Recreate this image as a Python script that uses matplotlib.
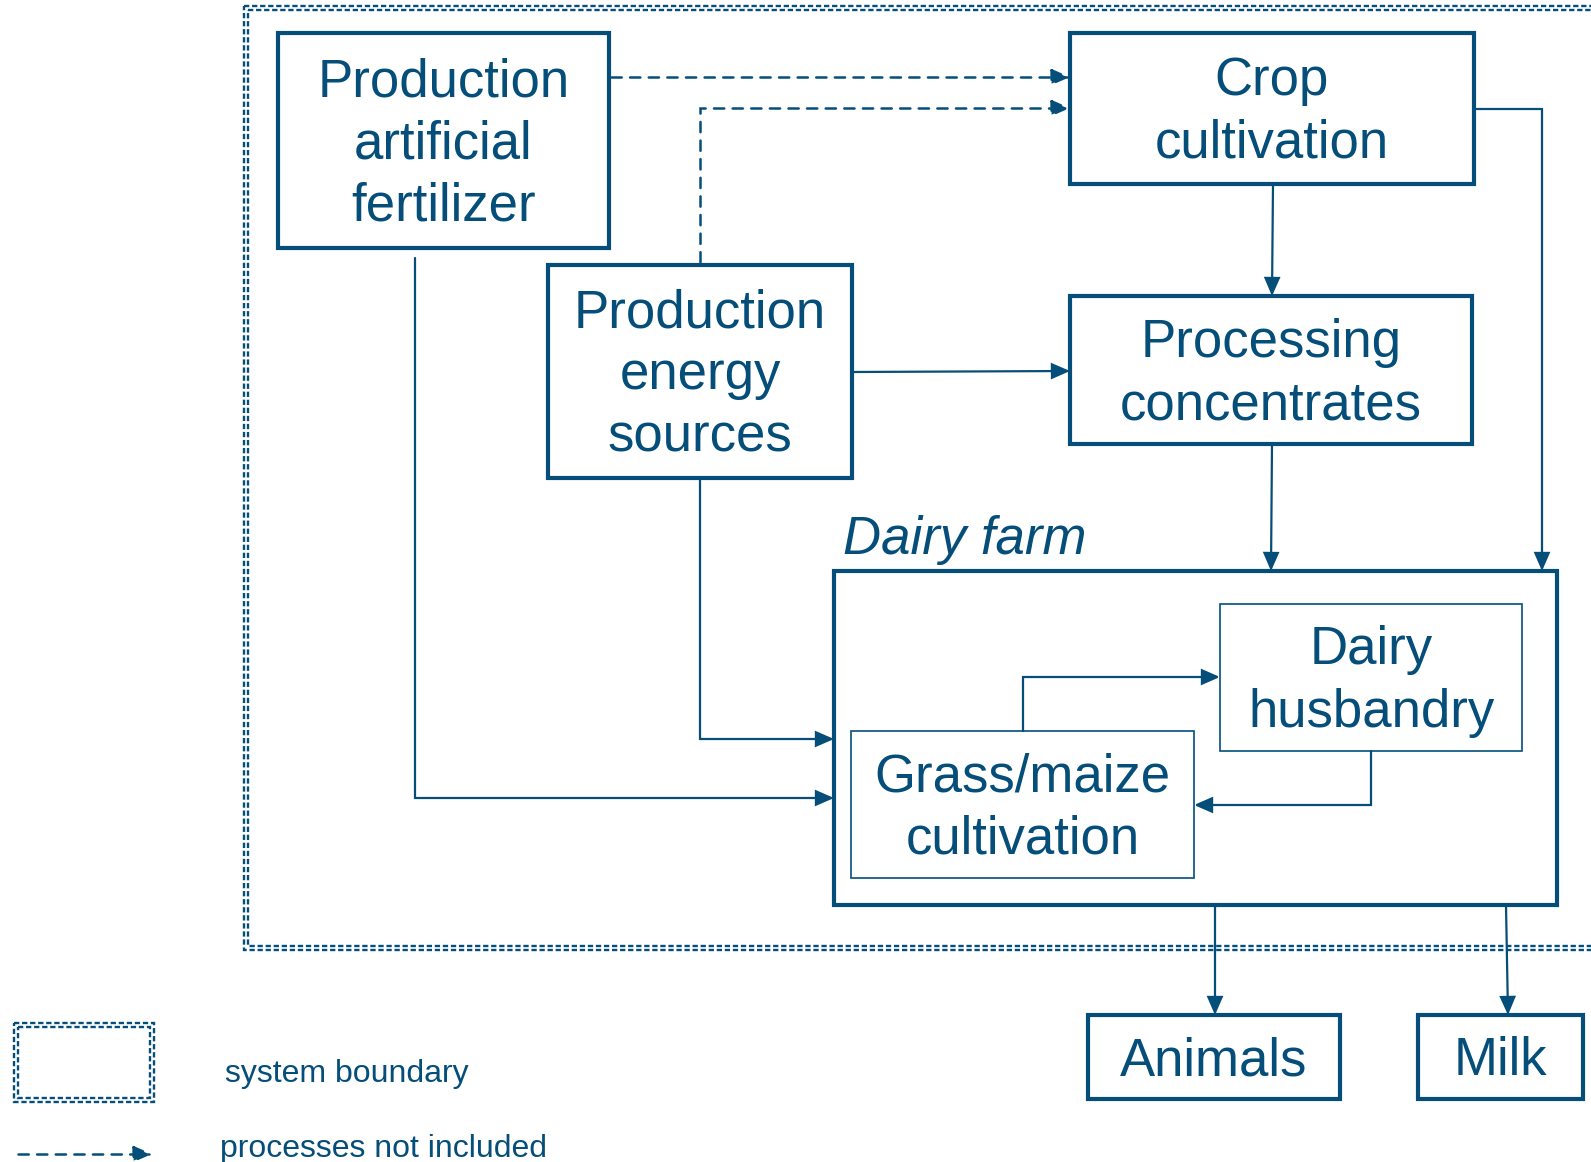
import matplotlib
matplotlib.use("Agg")
import matplotlib.pyplot as plt
from matplotlib.patches import Rectangle, FancyArrowPatch
from matplotlib.path import Path

plt.rcParams['font.family'] = ['Liberation Sans', 'DejaVu Sans']
plt.rcParams['lines.scale_dashes'] = False

BLUE = '#054e7a'

# box labels
fertilizer_label = "Production\nartificial\nfertilizer"
crop_label = "Crop\ncultivation"
energy_label = "Production\nenergy\nsources"
processing_label = "Processing\nconcentrates"
husbandry_label = "Dairy\nhusbandry"
grass_label = "Grass/maize\ncultivation"
animals_label = "Animals"
milk_label = "Milk"
farm_label = "Dairy farm"
legend_labels = ["system boundary", "processes not included"]

# layout in pixel coordinates (x0, y0, x1, y1)
boxes = {
    'fert': ((278, 33, 609, 248), fertilizer_label, 3.0),
    'crop': ((1070, 33, 1474, 184), crop_label, 3.0),
    'energy': ((548, 265, 852, 478), energy_label, 3.0),
    'proc': ((1070, 296, 1472, 444), processing_label, 3.0),
    'husb': ((1220, 604, 1522, 751), husbandry_label, 1.2),
    'grass': ((851, 731, 1194, 878), grass_label, 1.2),
    'animals': ((1088, 1015, 1340, 1099), animals_label, 3.0),
    'milk': ((1418, 1015, 1583, 1099), milk_label, 3.0),
}

fig = plt.figure(figsize=(15.91, 11.62), dpi=100)
ax = fig.add_axes([0, 0, 1, 1])
ax.set_xlim(0, 1591)
ax.set_ylim(1162, 0)
ax.axis('off')


def draw_box(x0, y0, x1, y1, lw, **kw):
    ax.add_patch(Rectangle((x0, y0), x1 - x0, y1 - y0, fill=False,
                           edgecolor=BLUE, lw=lw, **kw))


def double_dashed(x0, y0, x1, y1):
    for off in (0, 4.4):
        draw_box(x0 + off, y0 + off, x1 - off, y1 - off, 1.7,
                 linestyle=(0, (3.8, 2.0)))


def arrow(pts, dashed=False):
    codes = [Path.MOVETO] + [Path.LINETO] * (len(pts) - 1)
    ls = (0, (7.4, 6.0)) if dashed else '-'
    p = FancyArrowPatch(path=Path(pts, codes),
                        arrowstyle='-|>,head_length=0.55,head_width=0.24',
                        mutation_scale=20, color=BLUE,
                        lw=1.8 if dashed else 1.6,
                        linestyle=ls, joinstyle='miter')
    ax.add_patch(p)


# system boundary
double_dashed(244, 6, 1640, 950)

# dairy farm box
draw_box(834, 571, 1557, 905, 3.0)
ax.text(843, 540, farm_label, fontsize=38, style='italic', color=BLUE,
        ha='left', va='center')

for key, ((x0, y0, x1, y1), label, lw) in boxes.items():
    draw_box(x0, y0, x1, y1, lw)
    ax.text((x0 + x1) / 2, (y0 + y1) / 2 + 4, label, fontsize=38, color=BLUE,
            ha='center', va='center', linespacing=1.32)

# processes not included
arrow([(611, 77), (1070, 77)], dashed=True)
arrow([(700, 262), (700, 108), (1070, 108)], dashed=True)

# flows
arrow([(1273, 184), (1272, 296)])
arrow([(1474, 109), (1542, 109), (1542, 571)])
arrow([(852, 372), (1070, 371)])
arrow([(1272, 444), (1271, 571)])
arrow([(700, 478), (700, 739), (834, 739)])
arrow([(415, 258), (415, 798), (834, 798)])
arrow([(1023, 731), (1023, 677), (1220, 677)])
arrow([(1371, 751), (1371, 805), (1194, 805)])
arrow([(1215, 905), (1215, 1015)])
arrow([(1506, 905), (1508, 1015)])

# legend
double_dashed(14, 1023, 154, 1102)
arrow([(18, 1154), (152, 1154)], dashed=True)
ax.text(225, 1074, legend_labels[0], fontsize=23, color=BLUE, ha='left', va='center')
ax.text(220, 1149, legend_labels[1], fontsize=23, color=BLUE, ha='left', va='center')

fig.savefig('out.png', dpi=100)
